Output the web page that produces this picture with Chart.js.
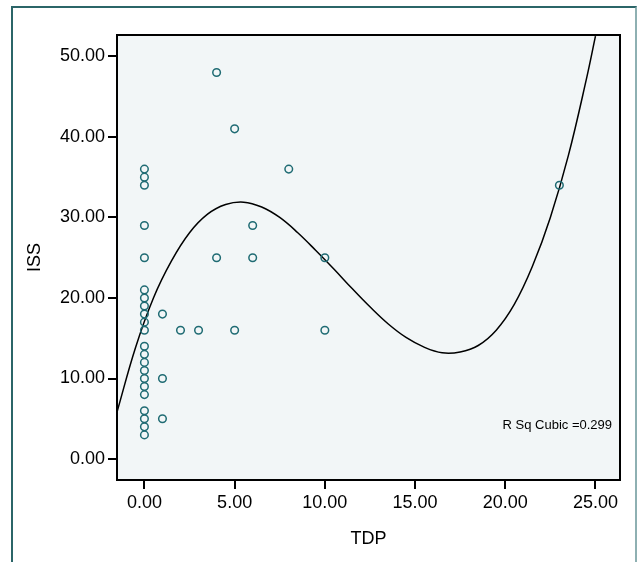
<!DOCTYPE html>
<html>
<head>
<meta charset="utf-8">
<title>ISS vs TDP</title>
<script src="https://cdn.jsdelivr.net/npm/chart.js@4.4.1/dist/chart.umd.min.js"></script>
<style>
  html, body { margin: 0; padding: 0; background: #fff; }
  #wrap { position: relative; width: 640px; height: 562px; overflow: hidden; }
  #frame {
    position: absolute; left: 11px; top: 6px; width: 622px; height: 570px;
    border-left: 2px solid #2b6568; border-top: 2px solid #2b6568; border-right: 2px solid #8eb0b2;
  }
  canvas { position: absolute; left: 0; top: 0; }
</style>
</head>
<body>
<div id="wrap">
  <div id="frame"></div>
  <canvas id="scatterChart" width="640" height="562"></canvas>
</div>
<script>
// Observed cases (TDP, ISS)
const tdpValues = [
    0, 0, 0, 0, 0, 0, 0, 0, 0, 0, 0, 0, 0, 0, 0, 0, 0, 0, 0, 0, 0, 0,
    1, 1, 1,
    2, 3,
    4, 4,
    5, 5,
    6, 6,
    8,
    10, 10,
    23
];
const issValues = [
    36, 35, 34, 29, 25, 21, 20, 19, 18, 17, 16, 14, 13, 12, 11, 10, 9, 8, 6, 5, 4, 3,
    18, 10, 5,
    16, 16,
    48, 25,
    41, 16,
    29, 25,
    36,
    25, 16,
    34
];

// Cubic fit line
const curveTdp = [-1.5, -0.5, 0.5, 1.5, 2.5, 3.5, 4.5, 5.5, 6.5, 7.5, 8.5, 9.5, 10.5, 11.5, 12.5, 13.5,
                  14.5, 15.5, 16.5, 17.5, 18.5, 19.5, 20.5, 21.5, 22.5, 23.5, 24.5, 25.0];
const curveIss = [6.0, 13.8, 20.0, 24.6, 28.1, 30.4, 31.6, 31.9, 31.3, 30.0, 28.1, 25.9, 23.6, 21.2, 18.9, 16.8,
                  15.1, 13.9, 13.2, 13.3, 14.1, 16.0, 19.2, 23.9, 30.0, 37.7, 47.2, 52.5];

// Tick labels
const xTickValues = [0, 5, 10, 15, 20, 25];
const yTickValues = [0, 10, 20, 30, 40, 50];

const rSqLabel = 'R Sq Cubic =0.299';

const FONT = "'Liberation Sans', Arial, sans-serif";

// Plot background, frame and fit label
const plotFrame = {
    id: 'plotFrame',
    beforeDatasetsDraw: function(chart) {
        const a = chart.chartArea;
        const ctx = chart.ctx;
        ctx.save();
        ctx.fillStyle = '#f2f6f7';
        ctx.fillRect(a.left, a.top, a.right - a.left, a.bottom - a.top);
        ctx.restore();
    },
    afterDatasetsDraw: function(chart) {
        const a = chart.chartArea;
        const ctx = chart.ctx;
        ctx.save();
        ctx.strokeStyle = '#000';
        ctx.lineWidth = 2;
        ctx.strokeRect(a.left, a.top, a.right - a.left, a.bottom - a.top);
        ctx.fillStyle = '#000';
        ctx.font = '13px ' + FONT;
        ctx.textAlign = 'right';
        ctx.textBaseline = 'middle';
        ctx.fillText(rSqLabel, a.right - 8, a.bottom - 55);
        ctx.restore();
    }
};

const points = tdpValues.map((x, i) => ({ x: x, y: issValues[i] }));
const curve = curveTdp.map((x, i) => ({ x: x, y: curveIss[i] }));

const axisCommon = {
    type: 'linear',
    grid: {
        drawOnChartArea: false,
        drawTicks: true,
        tickLength: 9,
        color: '#000',
        lineWidth: 2
    },
    border: { display: false },
    ticks: {
        color: '#000',
        font: { family: FONT, size: 18 },
        padding: 3,
        callback: function(value) { return Number(value).toFixed(2); }
    }
};

new Chart(document.getElementById('scatterChart').getContext('2d'), {
    type: 'scatter',
    data: {
        datasets: [{
            label: 'ISS',
            data: points,
            pointRadius: 3.8,
            pointBorderWidth: 1.5,
            pointBorderColor: '#1f6b73',
            pointBackgroundColor: 'rgba(0,0,0,0)',
            showLine: false
        }, {
            type: 'line',
            label: 'Cubic',
            data: curve,
            borderColor: '#000',
            borderWidth: 1.5,
            pointRadius: 0,
            fill: false,
            tension: 0.4,
            clip: 0
        }]
    },
    options: {
        responsive: false,
        animation: false,
        layout: {
            padding: { top: 35, right: 20, left: 0, bottom: 0 }
        },
        plugins: {
            legend: { display: false },
            tooltip: { enabled: false }
        },
        scales: {
            x: Object.assign({}, axisCommon, {
                min: -1.52,
                max: 26.36,
                afterBuildTicks: function(scale) {
                    scale.ticks = xTickValues.map(v => ({ value: v }));
                },
                afterFit: function(scale) { scale.height = 82; },
                title: {
                    display: true,
                    text: 'TDP',
                    color: '#000',
                    font: { family: FONT, size: 18 },
                    padding: { top: 0, bottom: 12 }
                }
            }),
            y: Object.assign({}, axisCommon, {
                min: -2.6,
                max: 52.65,
                afterBuildTicks: function(scale) {
                    scale.ticks = yTickValues.map(v => ({ value: v }));
                },
                afterFit: function(scale) { scale.width = 117; },
                title: {
                    display: true,
                    text: 'ISS',
                    color: '#000',
                    font: { family: FONT, size: 18 },
                    padding: { top: 24, bottom: 0 }
                }
            })
        }
    },
    plugins: [plotFrame]
});
</script>
</body>
</html>
